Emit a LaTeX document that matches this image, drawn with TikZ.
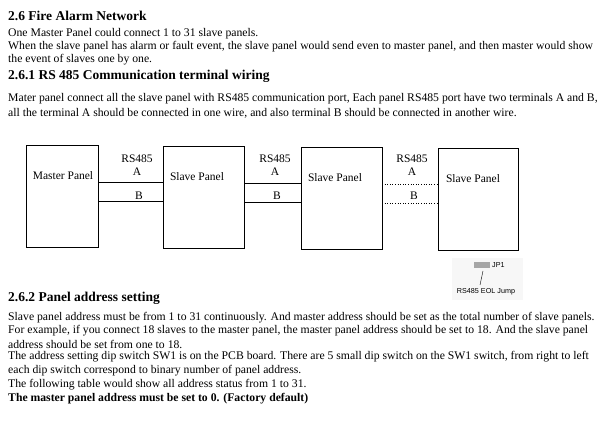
\documentclass[tikz,border=0pt]{standalone}
\usepackage{fontspec}
\setmainfont{Liberation Serif}
\newfontfamily\sansf{Liberation Sans}
\begin{document}
\begin{tikzpicture}[x=1pt,y=-1pt,
  txt/.style={anchor=west,inner sep=0pt,font=\fontsize{11.7}{13}\selectfont},
  hd/.style={anchor=west,inner sep=0pt,font=\fontsize{13.5}{15}\selectfont\bfseries},
  panel/.style={draw,line width=0.6pt},
  lbl/.style={inner sep=0pt,font=\fontsize{11.5}{13}\selectfont},
  wire/.style={line width=0.6pt},
  dwire/.style={line width=0.6pt,dotted}]
\useasboundingbox (0,0) rectangle (605,427);
\node[hd] (t1) at (8,16) {2.6 Fire Alarm Network};
\node[txt] (l1) at (8,34) {One Master Panel could connect 1 to 31 slave panels.};
\node[txt] (l2) at (8,47) {When the slave panel has alarm or fault event, the slave panel would send even to master panel, and then master would show};
\node[txt] (l3) at (8,60) {the event of slaves one by one.};
\node[hd] (t2) at (8,76) {2.6.1 RS 485 Communication terminal wiring};
\node[txt] (l4) at (8,99) {Mater panel connect all the slave panel with RS485 communication port, Each panel RS485 port have two terminals A and B,};
\node[txt] (l5) at (8,113) {all the terminal A should be connected in one wire, and also terminal B should be connected in another wire.};
% panels
\draw[panel] (26,145) rectangle (98,247);
\draw[panel] (163,146) rectangle (244,248);
\draw[panel] (301,147) rectangle (382,249);
\draw[panel] (438,148) rectangle (518,250);
\node[lbl] (m) at (63,176) {Master Panel};
\node[lbl] (s1) at (197,177) {Slave Panel};
\node[lbl] (s2) at (335,178) {Slave Panel};
\node[lbl] (s3) at (473,179) {Slave Panel};
\coordinate (mA) at (98,182); \coordinate (mB) at (98,201);
\coordinate (s1Ai) at (163,182); \coordinate (s1Bi) at (163,201);
\coordinate (s1Ao) at (244,183); \coordinate (s1Bo) at (244,202);
\coordinate (s2Ai) at (301,183); \coordinate (s2Bi) at (301,202);
\coordinate (s2Ao) at (382,184); \coordinate (s2Bo) at (382,203);
\coordinate (s3Ai) at (438,184); \coordinate (s3Bi) at (438,203);
\draw[wire] (mA) -- (s1Ai); \draw[wire] (mB) -- (s1Bi);
\draw[wire] (s1Ao) -- (s2Ai); \draw[wire] (s1Bo) -- (s2Bi);
\draw[dwire] (s2Ao) -- (s3Ai); \draw[dwire] (s2Bo) -- (s3Bi);
\foreach \x/\n in {137/a,275/b,412/c}{
  \node[lbl] (r\n) at (\x,159) {RS485};
  \node[lbl] (A\n) at (\x,172) {A};
  \node[lbl] (B\n) at (\x+2,196) {B};
}
% EOL jumper
\fill[black!3] (452,258) rectangle (523,300);
\fill[black!35] (474,262) rectangle (490,268);
\node[inner sep=0pt,font=\sansf\fontsize{7.2}{8}\selectfont,anchor=west] (jp) at (492,265) {JP1};
\node[inner sep=0pt,font=\sansf\fontsize{7.2}{8}\selectfont] (eol) at (486,292) {RS485 EOL Jump};
\draw[line width=0.4pt] (483,271) -- (480,285);
\node[hd] (t3) at (8,298) {2.6.2 Panel address setting};
\node[txt] (p1) at (8,318) {Slave panel address must be from 1 to 31 continuously. And master address should be set as the total number of slave panels.};
\node[txt] (p2) at (8,331) {For example, if you connect 18 slaves to the master panel, the master panel address should be set to 18. And the slave panel};
\node[txt] (p3) at (8,344) {address should be set from one to 18.};
\node[txt] (p4) at (8,357) {The address setting dip switch SW1 is on the PCB board. There are 5 small dip switch on the SW1 switch, from right to left};
\node[txt] (p5) at (8,371) {each dip switch correspond to binary number of panel address.};
\node[txt] (p6) at (8,385) {The following table would show all address status from 1 to 31.};
\node[txt,font=\fontsize{11.7}{13}\selectfont\bfseries] (p7) at (8,399) {The master panel address must be set to 0. (Factory default)};
\end{tikzpicture}
\end{document}
